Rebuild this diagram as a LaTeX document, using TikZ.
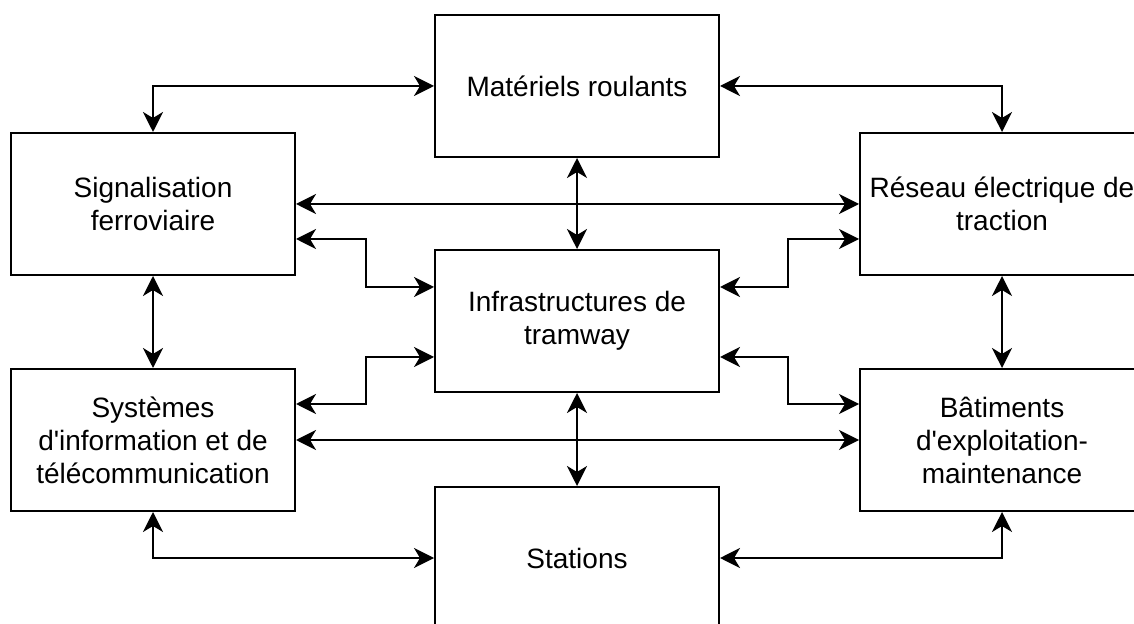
\documentclass[tikz,border=0pt]{standalone}
\usepackage{fontspec}
\newfontfamily\boxfont{Liberation Sans}
\usetikzlibrary{arrows.meta,calc}
\begin{document}
\begin{tikzpicture}[x=0.5pt,y=-0.5pt,
  box/.style={draw=black,line width=1pt,fill=white,rectangle,
    minimum width=142pt,minimum height=71pt,inner sep=0pt,align=center,
    font=\boxfont\fontsize{14pt}{16.5pt}\selectfont},
  link/.style={line width=1pt,{Stealth[length=10pt,width=10pt,inset=3pt]}-{Stealth[length=10pt,width=10pt,inset=3pt]}}]
\clip (0,0) rectangle (1134,624);
\fill[white] (0,0) rectangle (1134,624);
\node[box] (mat) at (577,86) {Matériels roulants};
\node[box] (sig) at (153,204) {Signalisation\\ferroviaire};
\node[box] (res) at (1002,204) {Réseau électrique de\\traction};
\node[box] (inf) at (577,321) {Infrastructures de\\tramway};
\node[box] (sys) at (153,440) {Systèmes\\d'information et de\\télécommunication};
\node[box] (bat) at (1002,440) {Bâtiments\\d'exploitation-\\maintenance};
\node[box] (sta) at (577,558) {Stations};
% top and bottom elbows
\draw[link] (mat.west) -| (sig.north);
\draw[link] (mat.east) -| (res.north);
\draw[link] (sta.west) -| (sys.south);
\draw[link] (sta.east) -| (bat.south);
% verticals
\draw[link] (mat.south) -- (inf.north);
\draw[link] (inf.south) -- (sta.north);
\draw[link] (sig.south) -- (sys.north);
\draw[link] (res.south) -- (bat.north);
% straight horizontals
\draw[link] (sig.east) -- (res.west);
\draw[link] (sys.east) -- (bat.west);
% elbows to infrastructure
\draw[link] ($(sig.east)+(0,35)$) -- ++(70,0) |- ($(inf.west)+(0,-34)$);
\draw[link] ($(sys.east)+(0,-36)$) -- ++(70,0) |- ($(inf.west)+(0,36)$);
\draw[link] ($(res.west)+(0,35)$) -- ++(-71,0) |- ($(inf.east)+(0,-34)$);
\draw[link] ($(bat.west)+(0,-36)$) -- ++(-71,0) |- ($(inf.east)+(0,36)$);
\end{tikzpicture}
\end{document}
